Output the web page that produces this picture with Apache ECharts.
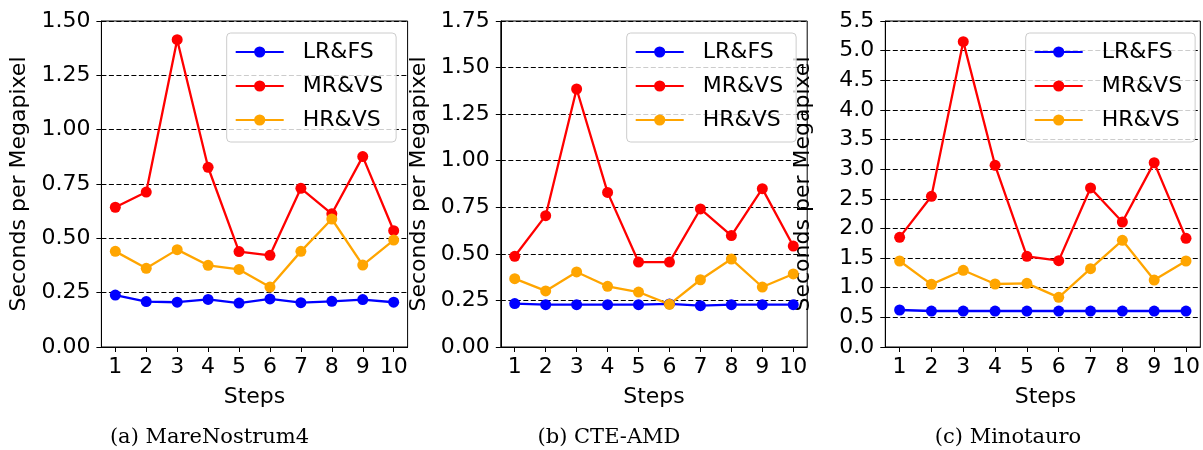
<!DOCTYPE html>
<html><head><meta charset="utf-8">
<script src="https://cdn.jsdelivr.net/npm/echarts@6/dist/echarts.min.js"></script>
<style>html,body{margin:0;padding:0;background:#fff}#c{width:1203px;height:450px}</style>
</head><body><div id="c"></div>
<script>
// ---- data ----
const steps = [1, 2, 3, 4, 5, 6, 7, 8, 9, 10];
const seriesNames = ['LR&FS', 'MR&VS', 'HR&VS'];
const panelTitles = ['(a) MareNostrum4', '(b) CTE-AMD', '(c) Minotauro'];
const yLabel = 'Seconds per Megapixel';
const xLabel = 'Steps';

const mareLR = [0.239, 0.209, 0.206, 0.219, 0.202, 0.221, 0.204, 0.210, 0.218, 0.206];
const mareMR = [0.643, 0.713, 1.414, 0.827, 0.439, 0.422, 0.730, 0.613, 0.876, 0.535];
const mareHR = [0.440, 0.362, 0.448, 0.376, 0.357, 0.276, 0.440, 0.589, 0.377, 0.492];

const cteLR = [0.233, 0.227, 0.227, 0.227, 0.227, 0.231, 0.222, 0.227, 0.227, 0.227];
const cteMR = [0.487, 0.705, 1.385, 0.830, 0.456, 0.456, 0.741, 0.598, 0.850, 0.542];
const cteHR = [0.367, 0.301, 0.403, 0.326, 0.295, 0.229, 0.361, 0.472, 0.322, 0.392];

const minoLR = [0.624, 0.607, 0.607, 0.607, 0.607, 0.607, 0.607, 0.607, 0.607, 0.607];
const minoMR = [1.850, 2.542, 5.152, 3.065, 1.530, 1.457, 2.683, 2.109, 3.110, 1.834];
const minoHR = [1.451, 1.057, 1.294, 1.063, 1.074, 0.838, 1.322, 1.800, 1.130, 1.451];

const yMaxes = [1.5, 1.75, 5.5];
const yIntervals = [0.25, 0.25, 0.5];
const yDecimals = [2, 2, 1];

const panelData = [[mareLR, mareMR, mareHR], [cteLR, cteMR, cteHR], [minoLR, minoMR, minoHR]];
const colors = ['#0000ff', '#ff0000', '#ffa500'];

// ---- layout ----
const grids = [
  { left: 101.4, top: 21, width: 306.2, height: 326 },
  { left: 500.8, top: 21, width: 306.4, height: 326 },
  { left: 885.3, top: 21, width: 320.4, height: 326 }
];
const legendLefts = [226.7, 626.7, 1025.7];
const FONT = 'DejaVu Sans';

const option = {
  animation: false,
  backgroundColor: '#fff',
  textStyle: { fontFamily: FONT },
  grid: grids.map(g => Object.assign({ show: true, borderColor: '#000', borderWidth: 1, containLabel: false }, g)),
  xAxis: grids.map((g, i) => ({
    type: 'value', gridIndex: i, min: 0.55, max: 10.45,
    axisLine: { show: true, onZero: false, lineStyle: { color: '#000', width: 1 } },
    axisTick: { show: true, length: 5, lineStyle: { color: '#000' }, customValues: steps },
    axisLabel: { color: '#000', fontSize: 22, fontFamily: FONT, margin: 9, customValues: steps, formatter: v => String(v) },
    splitLine: { show: false }
  })),
  yAxis: grids.map((g, i) => ({
    type: 'value', gridIndex: i, min: 0, max: yMaxes[i], interval: yIntervals[i],
    axisLine: { show: true, lineStyle: { color: '#000', width: 1 } },
    axisTick: { show: true, length: 5, lineStyle: { color: '#000' } },
    axisLabel: { color: '#000', fontSize: 22, fontFamily: FONT, margin: 11, formatter: v => v.toFixed(yDecimals[i]) },
    splitLine: { show: true, lineStyle: { color: '#000', width: 1, type: [5, 2.5] } }
  })),
  legend: legendLefts.map(l => ({
    orient: 'vertical', left: l, top: 33,
    data: seriesNames,
    itemWidth: 48, itemHeight: 14, itemGap: 12,
    padding: [8, 13, 11, 8],
    backgroundColor: 'rgba(255,255,255,0.8)',
    borderColor: '#cccccc', borderWidth: 1, borderRadius: 4,
    textStyle: { color: '#000', fontSize: 22, fontFamily: FONT, lineHeight: 22, padding: [0, 0, 0, 14] }
  })),
  series: [],
  graphic: []
};

panelData.forEach((arrs, p) => {
  arrs.forEach((arr, s) => {
    option.series.push({
      type: 'line', name: seriesNames[s], xAxisIndex: p, yAxisIndex: p,
      data: steps.map((x, k) => [x, arr[k]]),
      symbol: 'circle', symbolSize: 11,
      lineStyle: { color: colors[s], width: 2.3 },
      itemStyle: { color: colors[s] },
      emphasis: { disabled: true }
    });
  });
  const g = grids[p];
  const cx = g.left + g.width / 2;
  option.graphic.push({
    type: 'text', x: g.left - 82, y: g.top + g.height / 2, rotation: Math.PI / 2,
    style: { text: yLabel, font: '22px "DejaVu Sans"', fill: '#000', align: 'center', verticalAlign: 'middle' }
  });
  option.graphic.push({
    type: 'text', x: cx, y: 397,
    style: { text: xLabel, font: '22px "DejaVu Sans"', fill: '#000', align: 'center', verticalAlign: 'middle' }
  });
});
const captionCenters = [209.5, 609, 1008];
panelTitles.forEach((t, p) => {
  option.graphic.push({
    type: 'text', x: captionCenters[p], y: 438,
    style: { text: t, font: '21px "DejaVu Serif"', fill: '#000', align: 'center', verticalAlign: 'middle' }
  });
});

const chart = echarts.init(document.getElementById('c'), null, { renderer: 'canvas' });
chart.setOption(option);
</script></body></html>
